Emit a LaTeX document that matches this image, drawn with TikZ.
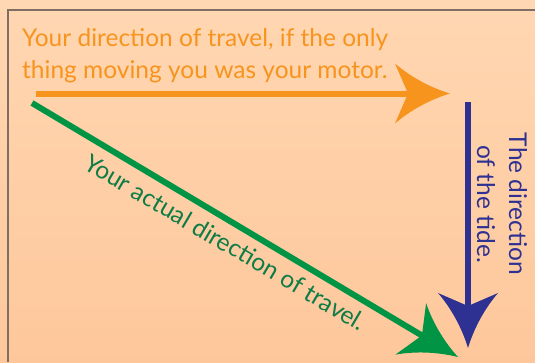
\documentclass[tikz,border=0pt]{standalone}
\usepackage{fontspec}
\setmainfont{Lato}
\usetikzlibrary{calc}
\definecolor{bgtop}{HTML}{FFD7B2}
\definecolor{bgbot}{HTML}{FEC79B}
\definecolor{framec}{HTML}{7E6E64}
\definecolor{orangec}{HTML}{F7941D}
\definecolor{greenc}{HTML}{009444}
\definecolor{greentext}{HTML}{0E7C45}
\definecolor{bluec}{HTML}{2E3192}
\begin{document}
\begin{tikzpicture}[x=1pt,y=-1pt,
  shaft/.style={line width=6pt},
  lbl/.style={font=\fontsize{24.5}{32}\selectfont, inner sep=0pt},
  head/.pic={\fill (0,0) .. controls (-20,-6) and (-40,-17) .. (-55,-30)
     -- (-42,0) -- (-55,30) .. controls (-40,17) and (-20,6) .. (0,0) -- cycle;}]
\shade[top color=bgtop,bottom color=bgbot] (0,0) rectangle (535,362);
\useasboundingbox (0,0) rectangle (535,362);
\draw[framec, line width=1.3pt] (8,362) -- (8,10) -- (535,10);

\coordinate (oS) at (36,93.5);
\coordinate (oE) at (450,93.5);
\coordinate (bS) at (468,102);
\coordinate (bE) at (468,348);
\coordinate (gS) at (32,103);
\coordinate (gE) at (458,357);

\node[lbl, anchor=base west, text=orangec, align=left] (otext) at (22,78)
  {Your direction of travel, if the only\\thing moving you was your motor.};
\node[lbl, anchor=base, text=greentext, rotate=-30.5] (gtext) at (221,250)
  {Your actual direction of travel.};
\node[lbl, anchor=center, text=bluec, rotate=-90, align=center] (btext) at (502,204)
  {The direction\\of the tide.};

\draw[shaft, orangec] (oS) -- ($(oE)!42pt!(oS)$);
\pic[orangec] at (oE) {head};
\draw[shaft, bluec] (bS) -- ($(bE)!42pt!(bS)$);
\pic[bluec, rotate=-90] at (bE) {head};
\draw[shaft, greenc] (gS) -- ($(gE)!42pt!(gS)$);
\pic[greenc, rotate=-30.8] at (gE) {head};
\end{tikzpicture}
\end{document}
